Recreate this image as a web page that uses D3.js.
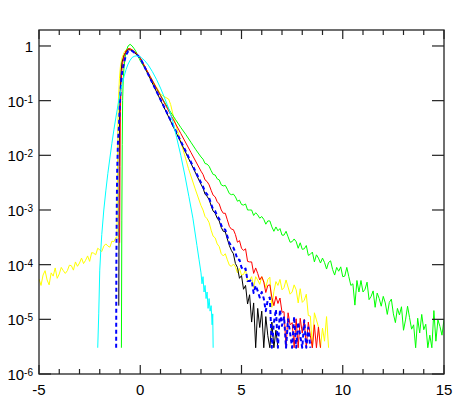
<!DOCTYPE html>
<html>
<head>
<meta charset="utf-8">
<script src="https://cdn.jsdelivr.net/npm/d3@7"></script>
<style>
  html, body { margin: 0; padding: 0; background: #fff; }
  svg { display: block; font-family: "Liberation Sans", Arial, sans-serif; }
</style>
</head>
<body>
<svg id="chart" width="463" height="405"></svg>
<script>
/* Semi-log distribution plot: six curves, values stored as log10(y) */

var STEP = 0.1;          // spacing of the regularly sampled tail values
var FLOOR = -5.52;       // lowest plotted level (log10)

var xTicksMajor = [-5, 0, 5, 10, 15];
var xTicksMinor = [-4, -3, -2, -1, 1, 2, 3, 4, 6, 7, 8, 9, 11, 12, 13, 14];
var yTickExp = [0, -1, -2, -3, -4, -5, -6];

/* ---- yellow ---- */
var yellowLeftX0 = -5.0;
var yellowLeft = [-4.26, -4.38, -4.19, -4.11, -4.28, -4.37, -4.15, -4.21, -4.06, -4.25,
  -4.17, -4.05, -4.11, -4.16, -4.11, -4.01, -4.02, -4.10, -3.95, -4.03,
  -3.97, -3.88, -3.98, -3.92, -3.84, -3.94, -3.78, -3.79, -3.82, -3.70,
  -3.73, -3.76, -3.66, -3.62, -3.66, -3.68, -3.57, -3.58, -3.50];
var yellowCore = [[-1.15, -3.52], [-1.13, -2.5], [-1.11, -1.6], [-1.08, -1.0], [-1.03, -0.6],
  [-0.98, -0.38], [-0.9, -0.22], [-0.8, -0.12], [-0.7, -0.07], [-0.6, -0.05], [-0.5, -0.05],
  [-0.4, -0.07], [-0.3, -0.1], [-0.2, -0.13], [-0.1, -0.17], [0, -0.22], [0.5, -0.56],
  [1.0, -0.88], [1.15, -0.92], [1.4, -0.97], [1.5, -1.07], [1.64, -1.29], [2.0, -1.75],
  [2.38, -2.24], [2.7, -2.6], [3.0, -2.92]];
var yellowTailX0 = 3.1;
var yellowTail = [-3.00, -3.12, -3.16, -3.23, -3.37, -3.48, -3.51, -3.62, -3.67, -3.80,
  -3.84, -3.80, -3.91, -4.01, -4.03, -3.99, -4.04, -4.15, -4.07, -4.19,
  -4.18, -4.09, -4.32, -4.28, -4.22, -4.42, -4.22, -4.28, -4.36, -4.22,
  -4.30, -4.42, -4.27, -4.23, -4.78, -4.49, -4.31, -4.38, -4.27, -4.46,
  -4.42, -4.28, -4.41, -4.54, -4.50, -4.37, -4.46, -4.70, -4.44, -4.69,
  -4.65, -4.54, -4.93, -4.94, -5.52, -4.88, -5.01, -5.14, -5.52, -5.16,
  -5.40, -4.95, -5.52];

/* ---- green ---- */
var greenCore = [[-0.93, -5.52], [-0.91, -3.2], [-0.89, -1.8], [-0.87, -1.0], [-0.84, -0.6],
  [-0.8, -0.38], [-0.75, -0.22], [-0.7, -0.1], [-0.6, 0.0], [-0.5, 0.03], [-0.4, 0.0],
  [-0.3, -0.05], [-0.2, -0.11], [-0.1, -0.19], [0, -0.27], [0.25, -0.42], [0.5, -0.58],
  [0.75, -0.74], [1.0, -0.9], [1.25, -1.06], [1.5, -1.21], [1.75, -1.35], [2.0, -1.49],
  [2.25, -1.62], [2.5, -1.76], [2.75, -1.9], [3.0, -2.03]];
var greenTailX0 = 3.1;
var greenTail = [-2.07, -2.15, -2.16, -2.20, -2.28, -2.35, -2.36, -2.43, -2.45, -2.54,
  -2.56, -2.55, -2.62, -2.70, -2.72, -2.71, -2.76, -2.84, -2.82, -2.90,
  -2.91, -2.89, -3.00, -3.00, -3.00, -3.10, -3.05, -3.09, -3.15, -3.12,
  -3.17, -3.26, -3.20, -3.20, -3.31, -3.39, -3.31, -3.38, -3.34, -3.46,
  -3.46, -3.39, -3.49, -3.59, -3.58, -3.53, -3.58, -3.70, -3.60, -3.72,
  -3.71, -3.65, -3.83, -3.81, -3.77, -3.95, -3.82, -3.88, -3.97, -3.88,
  -3.96, -4.08, -3.96, -3.93, -4.09, -4.19, -4.05, -4.12, -4.04, -4.22,
  -4.21, -4.05, -4.22, -4.38, -4.35, -4.74, -4.29, -4.50, -4.29, -4.50,
  -4.45, -4.32, -4.64, -4.58, -4.48, -4.78, -4.52, -4.62, -4.76, -4.58,
  -4.70, -4.91, -4.69, -4.63, -4.90, -5.06, -4.80, -4.92, -4.77, -5.20,
  -5.01, -4.76, -4.97, -5.18, -5.10, -5.52, -4.98, -5.25, -4.91, -5.19,
  -5.09, -5.52, -5.29, -5.52, -4.84, -5.40, -5.01, -5.13, -5.29, -5.00];

/* ---- black ---- */
var blackCore = [[-1.06, -4.75], [-1.05, -3.5], [-1.04, -2.2], [-1.02, -1.3], [-0.98, -0.75],
  [-0.94, -0.45], [-0.9, -0.3], [-0.8, -0.17], [-0.7, -0.1], [-0.6, -0.07], [-0.5, -0.07],
  [-0.4, -0.09], [-0.3, -0.12], [-0.2, -0.15], [-0.1, -0.18], [0, -0.22], [0.5, -0.605],
  [1.0, -0.99], [1.5, -1.375], [2.0, -1.76], [2.5, -2.145], [3.0, -2.53]];
var blackTailX0 = 3.1;
var blackTail = [-2.60, -2.71, -2.75, -2.81, -2.92, -3.02, -3.06, -3.15, -3.20, -3.32,
  -3.39, -3.40, -3.53, -3.65, -3.74, -3.80, -3.98, -4.05, -4.25, -4.20,
  -4.45, -4.38, -4.72, -4.55, -5.05, -4.70, -5.52, -4.80, -5.15, -4.85,
  -5.52, -4.95, -5.30, -5.52, -5.05, -5.52, -5.20, -5.52];

/* ---- red ---- */
var redCore = [[-1.02, -3.6], [-1.0, -2.2], [-0.98, -1.2], [-0.95, -0.7], [-0.9, -0.42],
  [-0.85, -0.28], [-0.8, -0.18], [-0.7, -0.09], [-0.6, -0.05], [-0.5, -0.05], [-0.4, -0.07],
  [-0.3, -0.1], [-0.2, -0.13], [-0.1, -0.17], [0, -0.22], [0.5, -0.565], [1.0, -0.91],
  [1.5, -1.255], [2.0, -1.6], [2.5, -1.945], [3.0, -2.29]];
var redTailX0 = 3.1;
var redTail = [-2.35, -2.45, -2.48, -2.54, -2.64, -2.73, -2.76, -2.85, -2.89, -3.00,
  -3.06, -3.06, -3.18, -3.30, -3.35, -3.36, -3.45, -3.59, -3.56, -3.70,
  -3.74, -3.71, -3.94, -3.95, -3.95, -4.16, -4.06, -4.16, -4.28, -4.22,
  -4.32, -4.51, -4.38, -4.37, -4.60, -4.75, -4.58, -4.71, -4.61, -4.87,
  -4.86, -5.52, -4.88, -5.10, -5.06, -5.52, -4.99, -5.52, -4.98, -5.25,
  -5.00, -5.52, -5.05, -5.30, -5.52, -5.10, -5.52, -5.14, -5.52];

/* ---- blue (dashed) ---- */
var blueCore = [[-1.19, -5.52], [-1.18, -4.0], [-1.16, -3.0], [-1.14, -2.3], [-1.1, -1.75],
  [-1.05, -1.45], [-1.0, -1.0], [-0.95, -0.7], [-0.9, -0.5], [-0.85, -0.4], [-0.8, -0.3],
  [-0.7, -0.16], [-0.6, -0.1], [-0.5, -0.08], [-0.4, -0.09], [-0.3, -0.12], [-0.2, -0.15],
  [-0.1, -0.18], [0, -0.22], [0.5, -0.6], [1.0, -0.98], [1.5, -1.36], [2.0, -1.74],
  [2.5, -2.12], [3.0, -2.5]];
var blueTailX0 = 3.1;
var blueTail = [-2.57, -2.67, -2.71, -2.78, -2.89, -2.99, -3.02, -3.11, -3.16, -3.28,
  -3.35, -3.36, -3.48, -3.60, -3.66, -3.69, -3.78, -3.91, -3.91, -4.05,
  -4.10, -4.07, -4.30, -4.30, -4.28, -4.52, -4.38, -4.48, -4.60, -4.50,
  -4.62, -4.85, -4.64, -4.60, -5.52, -5.06, -4.82, -5.52, -4.82, -5.12,
  -4.95, -5.52, -5.00, -5.25, -5.52, -4.95, -5.52, -5.05, -5.30, -5.52,
  -5.02, -5.52, -5.15, -5.52];

/* ---- cyan ---- */
var cyanCore = [[-2.1, -5.52], [-2.05, -4.9], [-2.0, -4.1], [-1.95, -3.75], [-1.9, -3.45],
  [-1.8, -3.0], [-1.7, -2.65], [-1.6, -2.33], [-1.5, -2.05], [-1.4, -1.78], [-1.3, -1.53],
  [-1.2, -1.3], [-1.1, -1.08], [-1.0, -0.88], [-0.9, -0.71], [-0.8, -0.56], [-0.7, -0.43],
  [-0.6, -0.33], [-0.5, -0.26], [-0.4, -0.21], [-0.3, -0.19], [-0.2, -0.18], [-0.1, -0.19],
  [0, -0.2], [0.2, -0.26], [0.4, -0.35], [0.6, -0.47], [0.8, -0.61], [1.0, -0.77],
  [1.2, -0.95], [1.4, -1.14], [1.6, -1.37], [1.8, -1.68], [2.0, -2.0], [2.2, -2.36],
  [2.4, -2.75], [2.6, -3.15], [2.8, -3.65], [2.9, -3.9], [3.0, -4.15], [3.05, -4.35],
  [3.1, -4.22], [3.15, -4.5], [3.2, -4.38], [3.25, -4.62], [3.3, -4.5], [3.35, -4.8],
  [3.4, -4.62], [3.45, -4.85], [3.5, -4.75], [3.55, -5.1], [3.58, -4.9], [3.6, -5.52]];

function sampled(x0, vals) {
  return vals.map(function (v, i) { return [x0 + i * STEP, v]; });
}

var series = [
  { name: 'yellow', color: '#ffff00', width: 1,
    pts: sampled(yellowLeftX0, yellowLeft).concat(yellowCore, sampled(yellowTailX0, yellowTail)) },
  { name: 'green', color: '#00ff00', width: 1,
    pts: greenCore.concat(sampled(greenTailX0, greenTail)) },
  { name: 'black', color: '#000000', width: 1,
    pts: blackCore.concat(sampled(blackTailX0, blackTail)) },
  { name: 'red', color: '#ff0000', width: 1,
    pts: redCore.concat(sampled(redTailX0, redTail)) },
  { name: 'blue', color: '#0000ff', width: 2, dash: '4,3',
    pts: blueCore.concat(sampled(blueTailX0, blueTail)) },
  { name: 'cyan', color: '#00ffff', width: 1, pts: cyanCore }
];

var W = 463, H = 405;
var margin = { top: 30, right: 19, bottom: 31, left: 39 };
var iw = W - margin.left - margin.right;
var ih = H - margin.top - margin.bottom;

var svg = d3.select('#chart');
var g = svg.append('g').attr('transform', 'translate(' + margin.left + ',' + margin.top + ')');

var x = d3.scaleLinear().domain([-5, 15]).range([0, iw]);
var y = d3.scaleLog().domain([1e-6, 1.96]).range([ih, 0]);

g.append('clipPath').attr('id', 'clip')
  .append('rect').attr('width', iw).attr('height', ih);

var line = d3.line()
  .x(function (d) { return x(d[0]); })
  .y(function (d) { return y(Math.pow(10, Math.max(d[1], FLOOR))); });

var plot = g.append('g').attr('clip-path', 'url(#clip)');
series.forEach(function (s) {
  plot.append('path')
    .datum(s.pts)
    .attr('fill', 'none')
    .attr('stroke', s.color)
    .attr('stroke-width', s.width)
    .attr('stroke-dasharray', s.dash || null)
    .attr('stroke-linejoin', 'round')
    .attr('d', line);
});

/* frame + inward ticks on all four sides */
var axisColor = '#222';
g.append('rect').attr('width', iw).attr('height', ih)
  .attr('fill', 'none').attr('stroke', axisColor).attr('stroke-width', 1.3);

function xTick(v, len) {
  g.append('line').attr('x1', x(v)).attr('x2', x(v)).attr('y1', ih).attr('y2', ih - len)
    .attr('stroke', axisColor).attr('stroke-width', 1.2);
  g.append('line').attr('x1', x(v)).attr('x2', x(v)).attr('y1', 0).attr('y2', len)
    .attr('stroke', axisColor).attr('stroke-width', 1.2);
}
xTicksMajor.forEach(function (v) { xTick(v, 9); });
xTicksMinor.forEach(function (v) { xTick(v, 5); });

yTickExp.forEach(function (e) {
  var yy = y(Math.pow(10, e));
  g.append('line').attr('x1', 0).attr('x2', 12).attr('y1', yy).attr('y2', yy)
    .attr('stroke', axisColor).attr('stroke-width', 1.2);
  g.append('line').attr('x1', iw).attr('x2', iw - 12).attr('y1', yy).attr('y2', yy)
    .attr('stroke', axisColor).attr('stroke-width', 1.2);
});

/* tick labels */
xTicksMajor.forEach(function (v) {
  g.append('text')
    .attr('x', x(v)).attr('y', ih + 21)
    .attr('text-anchor', 'middle')
    .style('font-size', '15px').style('fill', '#000')
    .text(v);
});

yTickExp.forEach(function (e) {
  var t = g.append('text')
    .attr('x', -6).attr('y', y(Math.pow(10, e)) + 6)
    .attr('text-anchor', 'end')
    .style('font-size', '15px').style('fill', '#000');
  if (e === 0) {
    t.text('1');
  } else {
    t.append('tspan').text('10');
    t.append('tspan').attr('dy', -4).style('font-size', '10px').text(String(e));
  }
});
</script>
</body>
</html>
